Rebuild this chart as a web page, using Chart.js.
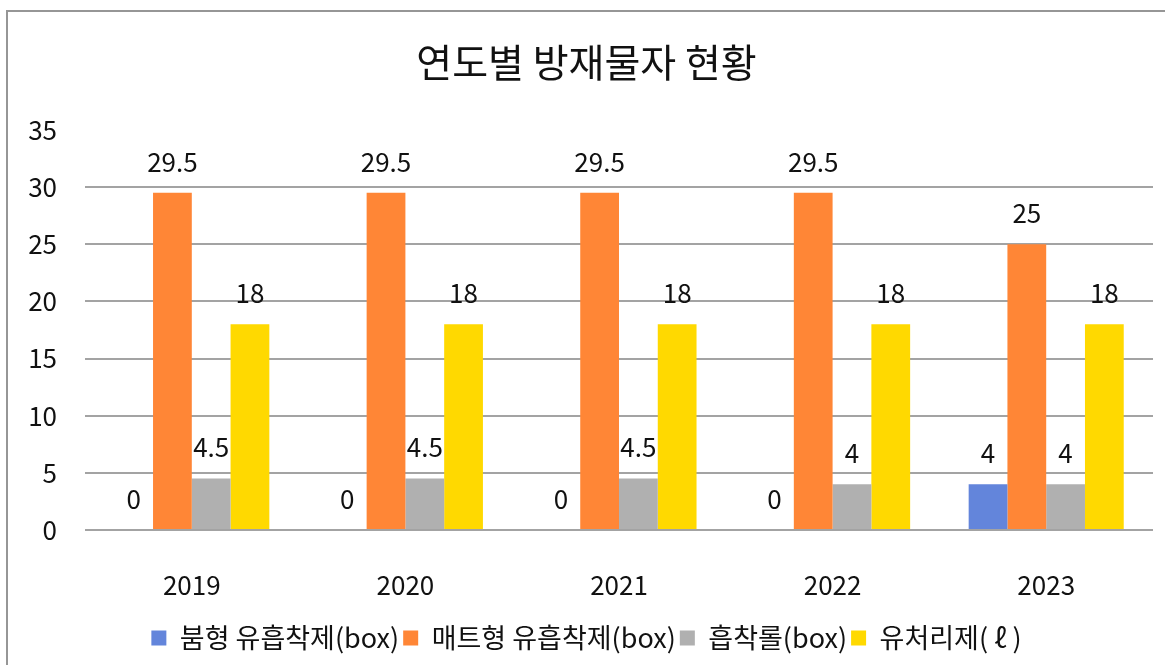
<!DOCTYPE html>
<html>
<head>
<meta charset="utf-8">
<script src="https://cdn.jsdelivr.net/npm/chart.js@4/dist/chart.umd.min.js"></script>
<style>
  html, body { margin: 0; padding: 0; background: #ffffff; overflow: hidden; }
  #wrap { position: relative; width: 1165px; height: 665px; }
  #c { position: absolute; left: 0; top: 0; }
  #frame { position: absolute; left: 6px; top: 10px; width: 1200px; height: 700px;
           border-left: 2px solid #969696; border-top: 2px solid #969696; pointer-events: none; }
</style>
</head>
<body>
<div id="wrap">
  <canvas id="c" width="1165" height="665"></canvas>
  <div id="frame"></div>
</div>
<script>
const titleText = '연도별 방재물자 현황';
const categories = ['2019', '2020', '2021', '2022', '2023'];
const seriesNames = ['붐형 유흡착제(box)', '매트형 유흡착제(box)', '흡착롤(box)', '유처리제( ℓ )'];
const boomAbsorbent = [0, 0, 0, 0, 4];
const matAbsorbent = [29.5, 29.5, 29.5, 29.5, 25];
const absorbentRoll = [4.5, 4.5, 4.5, 4, 4];
const dispersant = [18, 18, 18, 18, 18];
const yTicks = [0, 5, 10, 15, 20, 25, 30, 35];

const colors = ['#6385DB', '#FF8636', '#B0B0B0', '#FFD900'];
const FONT = '"Noto Sans CJK KR", "Noto Sans", sans-serif';
Chart.defaults.font.family = FONT;
Chart.defaults.color = '#111111';

const valueLabels = {
  id: 'valueLabels',
  afterDatasetsDraw(chart) {
    const ctx = chart.ctx;
    ctx.save();
    ctx.font = '26px ' + FONT;
    ctx.fillStyle = '#111111';
    ctx.textAlign = 'center';
    ctx.textBaseline = 'middle';
    chart.data.datasets.forEach((ds, i) => {
      const meta = chart.getDatasetMeta(i);
      meta.data.forEach((el, j) => {
        ctx.fillText(String(ds.data[j]), el.x, el.y - 31);
      });
    });
    ctx.restore();
  }
};

const seriesData = [boomAbsorbent, matAbsorbent, absorbentRoll, dispersant];

new Chart(document.getElementById('c'), {
  type: 'bar',
  data: {
    labels: categories,
    datasets: seriesNames.map((name, i) => ({
      label: name,
      data: seriesData[i],
      backgroundColor: colors[i],
      borderWidth: 0,
      barPercentage: 1,
      categoryPercentage: 0.726
    }))
  },
  options: {
    responsive: false,
    animation: false,
    layout: { padding: { top: 0, left: 20, right: 12, bottom: 3.5 } },
    plugins: {
      title: {
        display: true,
        text: titleText,
        font: { size: 39, weight: 'normal' },
        color: '#111111',
        padding: { top: 38.6, bottom: 44.6 }
      },
      legend: {
        position: 'bottom',
        labels: {
          font: { size: 27 },
          boxWidth: 15,
          boxHeight: 15,
          padding: 4,
          color: '#111111'
        }
      },
      tooltip: { enabled: false }
    },
    scales: {
      x: {
        grid: { display: false },
        border: { display: false },
        ticks: { font: { size: 26 }, padding: 31.4, color: '#111111' },
        afterFit(scale) { scale.height = 90.5; }
      },
      y: {
        min: 0,
        max: 35,
        afterBuildTicks(scale) { scale.ticks = yTicks.map(v => ({ value: v })); },
        grid: {
          drawTicks: false,
          lineWidth: 2,
          color: (c) => (c.tick && c.tick.value === 35) ? 'rgba(0,0,0,0)' : '#A3A3A3'
        },
        border: { display: false },
        ticks: { font: { size: 26 }, padding: 28, color: '#111111' },
        afterFit(scale) { scale.width = 65; }
      }
    }
  },
  plugins: [valueLabels]
});
</script>
</body>
</html>
